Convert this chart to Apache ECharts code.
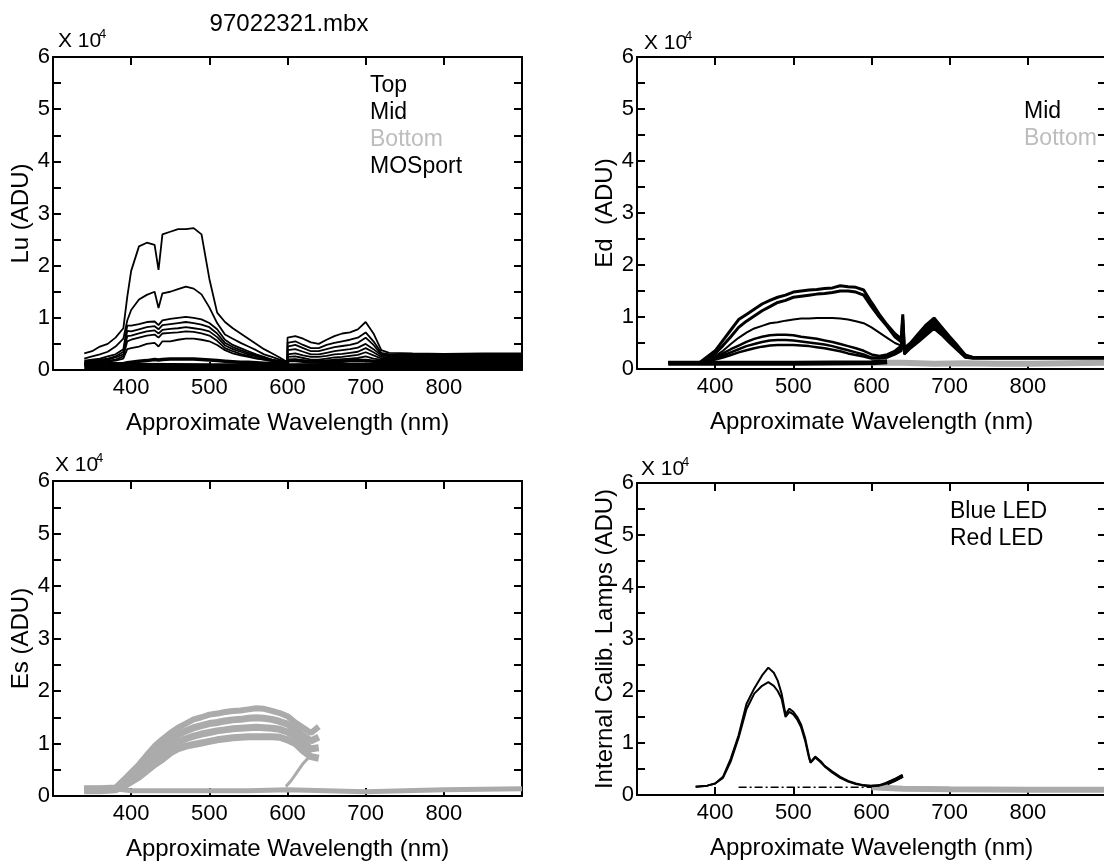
<!DOCTYPE html>
<html>
<head>
<meta charset="utf-8">
<title>97022321.mbx</title>
<script src="https://cdn.jsdelivr.net/npm/echarts@6/dist/echarts.min.js"></script>
<style>
  html, body { margin: 0; padding: 0; background: #fff; }
  #chart { width: 1104px; height: 867px; }
</style>
</head>
<body>
<div id="chart"></div>
<script>
// all intensities in units of 10^4 ADU, wavelengths in nm
const yTicks = [0, 1, 2, 3, 4, 5, 6]
const xTicks = [400, 500, 600, 700, 800]

// ---- Lu (upwelling radiance) ----
const wlLu = [340, 350, 360, 370, 380, 390, 395, 400, 410, 420, 430, 435, 440, 450, 460, 470, 480, 490, 500, 510, 520, 530, 540, 550, 560, 570, 580, 590, 600,
  600, 610, 620, 630, 640, 650, 660, 670, 680, 690, 700, 710, 720, 730, 760, 800, 850, 900]
const lu1 = [0.32, 0.36, 0.45, 0.5, 0.62, 0.8, 1.4, 1.9, 2.37, 2.44, 2.4, 1.92, 2.6, 2.65, 2.7, 2.7, 2.72, 2.6, 1.75, 1.1, 0.92, 0.8, 0.7, 0.6, 0.5, 0.4, 0.32, 0.24, 0.15,
  0.62, 0.65, 0.6, 0.53, 0.5, 0.58, 0.65, 0.7, 0.72, 0.78, 0.92, 0.7, 0.38, 0.33, 0.32, 0.31, 0.32, 0.32]
const lu2 = [0.22, 0.26, 0.3, 0.35, 0.45, 0.6, 0.95, 1.15, 1.35, 1.44, 1.5, 1.19, 1.47, 1.5, 1.55, 1.6, 1.56, 1.45, 1.2, 0.9, 0.68, 0.6, 0.52, 0.45, 0.38, 0.3, 0.25, 0.2, 0.15,
  0.52, 0.55, 0.48, 0.42, 0.42, 0.48, 0.52, 0.55, 0.58, 0.62, 0.72, 0.55, 0.33, 0.3, 0.3, 0.3, 0.3, 0.3]
const lu3 = [0.18, 0.2, 0.22, 0.26, 0.3, 0.4, 0.85, 0.85, 0.88, 0.92, 0.93, 0.86, 0.95, 0.98, 1.0, 1.02, 1.0, 0.97, 0.9, 0.78, 0.58, 0.48, 0.42, 0.36, 0.3, 0.25, 0.2, 0.17, 0.15,
  0.45, 0.48, 0.42, 0.36, 0.36, 0.4, 0.44, 0.46, 0.48, 0.52, 0.62, 0.48, 0.3, 0.28, 0.28, 0.28, 0.28, 0.28]
const lu4 = [0.15, 0.18, 0.2, 0.22, 0.26, 0.35, 0.75, 0.74, 0.78, 0.82, 0.84, 0.78, 0.86, 0.88, 0.9, 0.92, 0.9, 0.87, 0.82, 0.7, 0.52, 0.44, 0.38, 0.33, 0.28, 0.23, 0.2, 0.17, 0.14,
  0.38, 0.4, 0.35, 0.3, 0.3, 0.33, 0.36, 0.38, 0.4, 0.43, 0.5, 0.4, 0.28, 0.26, 0.26, 0.26, 0.26, 0.26]
const lu5 = [0.14, 0.16, 0.18, 0.2, 0.24, 0.3, 0.65, 0.66, 0.7, 0.74, 0.76, 0.7, 0.77, 0.79, 0.8, 0.82, 0.8, 0.78, 0.74, 0.63, 0.47, 0.4, 0.35, 0.3, 0.26, 0.22, 0.19, 0.16, 0.13,
  0.3, 0.32, 0.28, 0.25, 0.25, 0.27, 0.3, 0.31, 0.33, 0.35, 0.42, 0.34, 0.25, 0.24, 0.24, 0.24, 0.24, 0.24]
const lu6 = [0.12, 0.14, 0.16, 0.18, 0.2, 0.26, 0.55, 0.58, 0.62, 0.66, 0.68, 0.62, 0.7, 0.71, 0.72, 0.74, 0.73, 0.7, 0.66, 0.56, 0.42, 0.36, 0.31, 0.27, 0.23, 0.2, 0.17, 0.15, 0.12,
  0.25, 0.26, 0.23, 0.2, 0.2, 0.22, 0.24, 0.25, 0.27, 0.29, 0.34, 0.28, 0.22, 0.22, 0.22, 0.22, 0.22, 0.22]
const lu7 = [0.1, 0.12, 0.14, 0.16, 0.18, 0.22, 0.4, 0.42, 0.45, 0.5, 0.52, 0.45, 0.55, 0.55, 0.58, 0.6, 0.6, 0.58, 0.55, 0.48, 0.38, 0.32, 0.28, 0.25, 0.22, 0.2, 0.18, 0.16, 0.15,
  0.2, 0.21, 0.19, 0.17, 0.17, 0.18, 0.2, 0.21, 0.22, 0.23, 0.26, 0.22, 0.2, 0.2, 0.2, 0.2, 0.2, 0.2]
const lu8 = [0.1, 0.1, 0.11, 0.12, 0.12, 0.12, 0.14, 0.15, 0.17, 0.18, 0.2, 0.19, 0.2, 0.21, 0.21, 0.21, 0.21, 0.2, 0.19, 0.18, 0.17, 0.16, 0.15, 0.15, 0.14, 0.13, 0.13, 0.12, 0.12,
  0.18, 0.18, 0.17, 0.16, 0.16, 0.17, 0.17, 0.17, 0.18, 0.18, 0.18, 0.17, 0.16, 0.16, 0.16, 0.16, 0.16, 0.16]
const wlLuFloor = [340, 400, 500, 600, 700, 800, 900]
const luFloor = [0.07, 0.07, 0.06, 0.06, 0.07, 0.07, 0.07]
const wlLuGray = [650, 700, 750, 800, 850, 900]
const luGray = [0.12, 0.12, 0.13, 0.13, 0.14, 0.13]

// ---- Ed (downwelling irradiance) ----
const wlEd = [340, 360, 380, 400, 410, 420, 430, 440, 450, 460, 470, 480, 490, 500, 510, 520, 530, 540, 550, 560, 570, 580, 590, 600, 610, 620, 630,
  638, 640, 642, 650, 660, 670, 680, 690, 700, 710, 720, 730, 760, 800, 850, 900]
const ed1 = [0.12, 0.12, 0.12, 0.35, 0.55, 0.75, 0.95, 1.05, 1.15, 1.25, 1.32, 1.38, 1.42, 1.48, 1.5, 1.52, 1.53, 1.55, 1.56, 1.6, 1.58, 1.57, 1.52, 1.28, 1.05, 0.85, 0.68,
  0.58, 1.05, 0.4, 0.5, 0.68, 0.85, 0.98, 0.8, 0.62, 0.45, 0.27, 0.22, 0.22, 0.22, 0.22, 0.22]
const ed2 = [0.12, 0.12, 0.12, 0.3, 0.45, 0.62, 0.8, 0.92, 1.02, 1.12, 1.2, 1.28, 1.32, 1.38, 1.4, 1.42, 1.44, 1.45, 1.47, 1.5, 1.5, 1.48, 1.42, 1.2, 1.0, 0.82, 0.62,
  0.52, 0.95, 0.38, 0.48, 0.65, 0.8, 0.94, 0.78, 0.6, 0.43, 0.26, 0.22, 0.22, 0.22, 0.22, 0.22]
const ed3 = [0.12, 0.12, 0.12, 0.25, 0.35, 0.48, 0.6, 0.7, 0.78, 0.83, 0.88, 0.9, 0.93, 0.95, 0.97, 0.97, 0.98, 0.98, 0.98, 0.97, 0.95, 0.92, 0.88, 0.8, 0.7, 0.6, 0.5,
  0.45, 0.9, 0.35, 0.46, 0.62, 0.76, 0.9, 0.75, 0.58, 0.42, 0.25, 0.22, 0.22, 0.22, 0.22, 0.22]
const ed4 = [0.12, 0.12, 0.12, 0.22, 0.3, 0.38, 0.45, 0.52, 0.58, 0.62, 0.65, 0.66, 0.66, 0.65, 0.62, 0.6, 0.58, 0.55, 0.52, 0.48, 0.44, 0.4, 0.35, 0.28, 0.25, 0.28, 0.35,
  0.45, 0.85, 0.32, 0.44, 0.58, 0.72, 0.86, 0.72, 0.56, 0.4, 0.24, 0.22, 0.22, 0.22, 0.22, 0.22]
const ed5 = [0.12, 0.12, 0.12, 0.2, 0.26, 0.32, 0.38, 0.44, 0.48, 0.52, 0.55, 0.56, 0.56, 0.55, 0.53, 0.51, 0.49, 0.47, 0.44, 0.4, 0.36, 0.32, 0.28, 0.22, 0.22, 0.25, 0.32,
  0.4, 0.75, 0.3, 0.42, 0.55, 0.68, 0.82, 0.68, 0.53, 0.38, 0.23, 0.21, 0.21, 0.21, 0.21, 0.21]
const ed6 = [0.12, 0.12, 0.12, 0.18, 0.22, 0.27, 0.32, 0.36, 0.4, 0.43, 0.45, 0.46, 0.46, 0.46, 0.45, 0.44, 0.42, 0.4, 0.37, 0.34, 0.3, 0.27, 0.24, 0.2, 0.2, 0.22, 0.28,
  0.35, 0.7, 0.28, 0.4, 0.52, 0.65, 0.78, 0.65, 0.5, 0.36, 0.22, 0.2, 0.2, 0.2, 0.2, 0.2]
const wlEdBase = [340, 400, 500, 600, 620]
const edBase = [0.11, 0.11, 0.11, 0.12, 0.14]
const wlEdGray = [600, 640, 680, 720, 760, 800, 850, 900]
const edGray = [0.12, 0.12, 0.1, 0.11, 0.1, 0.1, 0.11, 0.12]

// ---- Es (surface irradiance) ----
const wlEs = [340, 360, 380, 390, 400, 410, 420, 430, 440, 450, 460, 470, 480, 490, 500, 510, 520, 530, 540, 550, 560, 570, 580, 590, 600, 610, 620, 630, 640]
const esTop = [0.15, 0.15, 0.16, 0.3, 0.45, 0.6, 0.78, 0.95, 1.08, 1.2, 1.3, 1.38, 1.46, 1.5, 1.55, 1.57, 1.6, 1.62, 1.63, 1.65, 1.67, 1.66, 1.62, 1.58, 1.52, 1.4, 1.3, 1.2, 1.32]
const esUpper = [0.13, 0.13, 0.14, 0.25, 0.38, 0.52, 0.68, 0.83, 0.95, 1.07, 1.17, 1.24, 1.3, 1.34, 1.38, 1.4, 1.43, 1.45, 1.46, 1.48, 1.49, 1.48, 1.46, 1.42, 1.37, 1.27, 1.15, 1.05, 1.12]
const esLower = [0.12, 0.12, 0.13, 0.21, 0.32, 0.44, 0.58, 0.72, 0.83, 0.94, 1.03, 1.09, 1.14, 1.18, 1.21, 1.24, 1.26, 1.28, 1.29, 1.3, 1.31, 1.3, 1.29, 1.27, 1.22, 1.13, 1.0, 0.9, 0.92]
const esBottom = [0.1, 0.1, 0.12, 0.18, 0.27, 0.36, 0.48, 0.6, 0.7, 0.82, 0.9, 0.95, 0.98, 1.01, 1.04, 1.07, 1.09, 1.11, 1.12, 1.13, 1.13, 1.13, 1.13, 1.12, 1.07, 1.0, 0.86, 0.75, 0.72]
const wlEsLeg = [598, 605, 612, 620, 628]
const esLeg = [0.18, 0.3, 0.45, 0.62, 0.75]
const wlEsBase = [340, 380, 400, 450, 500, 550, 600, 650, 700, 750, 800, 850, 900]
const esBase = [0.14, 0.14, 0.1, 0.1, 0.1, 0.1, 0.12, 0.1, 0.08, 0.1, 0.12, 0.13, 0.14]

// ---- internal calibration lamps ----
const wlCal = [375, 390, 400, 410, 420, 430, 440, 450, 460, 468, 475, 480, 485, 490, 495, 500, 505, 510, 515, 520, 522, 528, 535, 540, 550, 560, 570, 580, 590, 600, 610, 620, 630, 640]
const blueLed = [0.16, 0.18, 0.22, 0.35, 0.7, 1.15, 1.75, 2.05, 2.3, 2.45, 2.35, 2.2, 1.95, 1.55, 1.66, 1.6, 1.5, 1.35, 1.1, 0.75, 0.63, 0.74, 0.65, 0.56, 0.45, 0.35, 0.27, 0.22, 0.19, 0.18, 0.19, 0.24, 0.3, 0.38]
const redLed = [0.16, 0.18, 0.22, 0.33, 0.65, 1.1, 1.65, 1.95, 2.1, 2.17, 2.1, 2.0, 1.85, 1.5, 1.6, 1.55, 1.45, 1.3, 1.05, 0.72, 0.62, 0.72, 0.63, 0.55, 0.43, 0.33, 0.26, 0.21, 0.18, 0.17, 0.18, 0.22, 0.28, 0.35]
const wlCalDark = [430, 600]
const calDark = [0.15, 0.15]
const wlCalGray = [600, 640, 700, 800, 900]
const calGray = [0.15, 0.12, 0.11, 0.1, 0.1]
const wlCalEnd = [620, 630, 640]
const calEnd = [0.22, 0.29, 0.37]

const FONT = '"Liberation Sans", Arial, Helvetica, sans-serif'
const BLACK = '#000'
const GRAY = '#ababab'

const grids = [
  { left: 53, top: 57, width: 469, height: 313 },
  { left: 637, top: 57, width: 469, height: 312 },
  { left: 53, top: 481, width: 469, height: 315 },
  { left: 637, top: 483, width: 469, height: 312 },
]
const yNames = ['Lu (ADU)', 'Ed  (ADU)', 'Es (ADU)', 'Internal Calib. Lamps (ADU)']

const pairs = (xs, ys) => xs.map((x, i) => [x, ys[i]])

const axisLine = { show: true, onZero: false, lineStyle: { color: BLACK, width: 2 } }
const axisTick = { show: true, inside: true, length: 8, lineStyle: { color: BLACK, width: 2 } }

let xAxes = []
let yAxes = []
grids.forEach((g, i) => {
  ;['bottom', 'top'].forEach(pos => {
    xAxes.push({
      type: 'value', gridIndex: i, position: pos,
      min: 300, max: 900, interval: 100,
      axisLine, axisTick, splitLine: { show: false },
      axisLabel: {
        show: pos === 'bottom', color: BLACK, fontSize: 22, fontFamily: FONT, margin: 7,
        formatter: v => (xTicks.includes(v) ? String(v) : ''),
      },
      name: pos === 'bottom' ? 'Approximate Wavelength (nm)' : '',
      nameLocation: 'middle', nameGap: 41,
      nameTextStyle: { color: BLACK, fontSize: 24, fontFamily: FONT },
    })
  })
  ;['left', 'right'].forEach(pos => {
    yAxes.push({
      type: 'value', gridIndex: i, position: pos,
      min: 0, max: 6, interval: 0.5,
      axisLine, axisTick, splitLine: { show: false },
      axisLabel: {
        show: pos === 'left', color: BLACK, fontSize: 22, fontFamily: FONT, margin: 3,
        formatter: v => (yTicks.includes(v) ? String(v) : ''),
      },
      name: pos === 'left' ? yNames[i] : '',
      nameLocation: 'middle', nameGap: 19, nameRotate: 90,
      nameTextStyle: { color: BLACK, fontSize: 24, fontFamily: FONT },
    })
  })
})

function line(name, g, xs, ys, color, width, dash) {
  return {
    name, type: 'line', xAxisIndex: 2 * g, yAxisIndex: 2 * g,
    data: pairs(xs, ys), symbol: 'none', showSymbol: false,
    animation: false, silent: true,
    lineStyle: { color, width, type: dash || 'solid' },
    itemStyle: { color },
  }
}

const series = [
  // Lu
  line('Bottom', 0, wlLuGray, luGray, GRAY, 3),
  line('MOSport', 0, wlLuFloor, luFloor, BLACK, 7),
  line('MOSport', 0, wlLu, lu8, BLACK, 3.5),
  line('MOSport', 0, wlLu, lu7, BLACK, 1.8),
  line('Mid', 0, wlLu, lu6, BLACK, 1.8),
  line('Mid', 0, wlLu, lu5, BLACK, 1.8),
  line('Mid', 0, wlLu, lu4, BLACK, 1.8),
  line('Top', 0, wlLu, lu3, BLACK, 1.8),
  line('Top', 0, wlLu, lu2, BLACK, 1.8),
  line('Top', 0, wlLu, lu1, BLACK, 1.8),
  // Ed
  line('Bottom', 1, wlEdGray, edGray, GRAY, 6),
  line('Mid', 1, wlEdBase, edBase, BLACK, 5),
  line('Mid', 1, wlEd, ed6, BLACK, 2.5),
  line('Mid', 1, wlEd, ed5, BLACK, 2.5),
  line('Mid', 1, wlEd, ed4, BLACK, 2.5),
  line('Mid', 1, wlEd, ed3, BLACK, 2),
  line('Mid', 1, wlEd, ed2, BLACK, 3),
  line('Mid', 1, wlEd, ed1, BLACK, 3),
  // Es
  line('Es', 2, wlEsBase, esBase, GRAY, 5),
  line('Es', 2, wlEs, esBottom, GRAY, 7),
  line('Es', 2, wlEs, esLower, GRAY, 7),
  line('Es', 2, wlEs, esUpper, GRAY, 7),
  line('Es', 2, wlEs, esTop, GRAY, 6),
  line('Es', 2, wlEsLeg, esLeg, GRAY, 3),
  // calibration lamps
  line('Dark', 3, wlCalGray, calGray, GRAY, 6),
  line('Dark', 3, wlCalDark, calDark, BLACK, 1.5, [8, 3, 2, 3]),
  line('Blue LED', 3, wlCal, blueLed, BLACK, 2),
  line('Red LED', 3, wlCal, redLed, BLACK, 2),
  line('Red LED', 3, wlCalEnd, calEnd, BLACK, 4),
]

const legendBase = {
  orient: 'vertical', icon: 'none', itemWidth: 0, itemHeight: 22, itemGap: 4,
  selectedMode: false, padding: 0,
  textStyle: { color: BLACK, fontSize: 23, fontFamily: FONT },
}

function x104(x, y) {
  return [
    { type: 'text', x, y, silent: true, style: { text: 'X 10', fill: BLACK, font: '21px ' + FONT, align: 'left', verticalAlign: 'top' } },
    { type: 'text', x: x + 41, y: y - 3, silent: true, style: { text: '4', fill: BLACK, font: '13px ' + FONT, align: 'left', verticalAlign: 'top' } },
  ]
}

const option = {
  backgroundColor: '#fff',
  animation: false,
  grid: grids.map(g => ({ ...g, outerBoundsMode: 'none', containLabel: false })),
  xAxis: xAxes,
  yAxis: yAxes,
  legend: [
    { ...legendBase, left: 365, top: 74, data: ['Top', 'Mid', { name: 'Bottom', textStyle: { color: '#bdbdbd' } }, 'MOSport'] },
    { ...legendBase, left: 1019, top: 100, data: ['Mid', { name: 'Bottom', textStyle: { color: '#bdbdbd' } }] },
    { ...legendBase, left: 945, top: 500, data: ['Blue LED', 'Red LED'] },
  ],
  graphic: [
    { type: 'text', x: 289, y: 12, silent: true, style: { text: '97022321.mbx', fill: BLACK, font: '24px ' + FONT, align: 'center', verticalAlign: 'top' } },
    ...x104(58, 31),
    ...x104(644, 33),
    ...x104(55, 455),
    ...x104(641, 459),
  ],
  series,
}

const chart = echarts.init(document.getElementById('chart'))
chart.setOption(option)
window.onresize = function () {
  chart.resize()
}
</script>
</body>
</html>
